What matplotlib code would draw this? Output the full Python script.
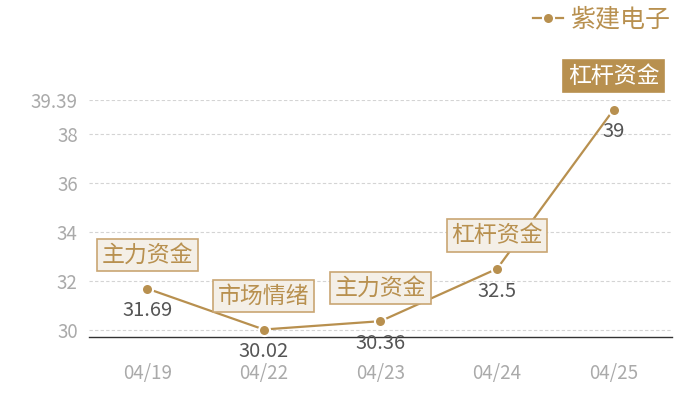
import matplotlib
matplotlib.use("Agg")
import matplotlib.pyplot as plt

plt.rcParams['font.family'] = ['Noto Sans CJK SC', 'DejaVu Sans']

# data
dates = ['04/19', '04/22', '04/23', '04/24', '04/25']
prices = [31.69, 30.02, 30.36, 32.5, 39]
tags = ['主力资金', '市场情绪', '主力资金', '杠杆资金', '杠杆资金']
y_ticks = [30, 32, 34, 36, 38, 39.39]
series_name = '紫建电子'

gold = '#b8904f'

fig = plt.figure(figsize=(7, 4), dpi=100)
ax = fig.add_axes([0.127, 0.1575, 0.833, 0.5925])

x = list(range(len(dates)))
ax.plot(x, prices, color=gold, lw=1.6, marker='o', markersize=8,
        markerfacecolor=gold, markeredgecolor='white', markeredgewidth=1.5,
        label=series_name, zorder=3)

ax.set_xlim(-0.5, len(dates) - 0.5)
ax.set_ylim(29.714, 39.39)
ax.set_xticks(x)
ax.set_xticklabels(dates)
ax.set_yticks(y_ticks)
ax.set_yticklabels([f'{v:g}' for v in y_ticks])
ax.tick_params(length=0, colors='#aaaaaa', labelsize=13.5)
ax.tick_params(axis='x', pad=19)
ax.tick_params(axis='y', pad=8)
ax.grid(axis='y', color='#d4d4d4', ls=(0, (3, 2)), lw=0.8)
for s in ['top', 'right', 'left']:
    ax.spines[s].set_visible(False)
ax.spines['bottom'].set_color('#333333')
ax.spines['bottom'].set_linewidth(1.0)

# value labels under points
for i, v in enumerate(prices):
    ax.annotate(f'{v:g}', (i, v), xytext=(0, -8.5), textcoords='offset points',
                ha='center', va='top', fontsize=14.5, color='#555555', zorder=4)

# tag boxes above points
for i, (v, t) in enumerate(zip(prices, tags)):
    last = i == len(prices) - 1
    box = dict(boxstyle='square,pad=0.2',
               fc=gold if last else '#f4efe7',
               ec=gold if last else '#c9a673', lw=1.2)
    ax.annotate(t, (i, v), xytext=(0, 24), textcoords='offset points',
                ha='center', va='center', fontsize=16.5,
                color='white' if last else gold, bbox=box,
                annotation_clip=False, zorder=5)

leg = fig.legend(loc='upper right', bbox_to_anchor=(0.99, 1.04), frameon=False,
                 fontsize=18, handlelength=1.2, handletextpad=0.3)
for txt in leg.get_texts():
    txt.set_color(gold)

fig.savefig('out.png', dpi=100)
